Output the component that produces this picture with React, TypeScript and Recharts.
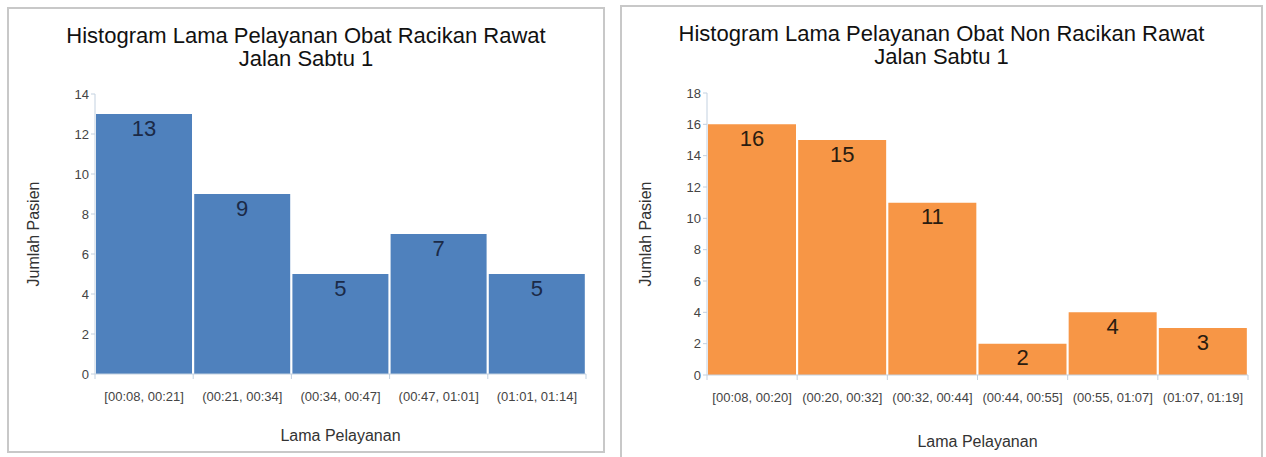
import { BarChart, Bar, XAxis, YAxis, LabelList } from "recharts";

const racikanBins = ["[00:08, 00:21]", "(00:21, 00:34]", "(00:34, 00:47]", "(00:47, 01:01]", "(01:01, 01:14]"];
const racikanCounts = [13, 9, 5, 7, 5];
const racikanTicks = [0, 2, 4, 6, 8, 10, 12, 14];

const nonRacikanBins = ["[00:08, 00:20]", "(00:20, 00:32]", "(00:32, 00:44]", "(00:44, 00:55]", "(00:55, 01:07]", "(01:07, 01:19]"];
const nonRacikanCounts = [16, 15, 11, 2, 4, 3];
const nonRacikanTicks = [0, 2, 4, 6, 8, 10, 12, 14, 16, 18];

const FONT = '"Liberation Sans", Arial, sans-serif';
const AXIS = "#c3d1e0";

const makeTick = (bandWidth: number) => (props: any) => {
  const { x, y, payload, index, visibleTicksCount } = props;
  const axisY = y - 8;
  const left = x - bandWidth / 2;
  const right = x + bandWidth / 2;
  return (
    <g>
      <line x1={left} y1={axisY} x2={left} y2={axisY + 5} stroke={AXIS} />
      {index === visibleTicksCount - 1 && (
        <line x1={right} y1={axisY} x2={right} y2={axisY + 5} stroke={AXIS} />
      )}
      <text x={x} y={axisY + 27} textAnchor="middle" fontSize={13} fill="#444" fontFamily={FONT}>
        {payload.value}
      </text>
    </g>
  );
};

interface PanelProps {
  title: string[];
  bins: string[];
  counts: number[];
  ticks: number[];
  color: string;
  labelColor: string;
  left: number;
  top: number;
  width: number;
  height: number;
  margin: { top: number; right: number; left: number };
  xHeight: number;
  yWidth: number;
  xTitleOffset: number;
}

const Panel = (p: PanelProps) => {
  const innerW = p.width - 4;
  const innerH = p.height - 4;
  const data = p.bins.map((bin, i) => ({ bin, count: p.counts[i] }));
  const bandWidth = (innerW - p.margin.left - p.yWidth - p.margin.right) / p.bins.length;
  return (
    <div
      style={{
        position: "absolute",
        left: p.left,
        top: p.top,
        width: p.width,
        height: p.height,
        boxSizing: "border-box",
        border: "2px solid #c8c8c8",
        background: "#fff",
      }}
    >
      <div
        style={{
          position: "absolute",
          left: 0,
          top: 15,
          width: innerW,
          textAlign: "center",
          fontFamily: FONT,
          fontSize: 22,
          lineHeight: "23px",
          color: "#111",
        }}
      >
        {p.title.map((t) => (
          <div key={t}>{t}</div>
        ))}
      </div>
      <BarChart
        width={innerW}
        height={innerH}
        data={data}
        margin={{ ...p.margin, bottom: 0 }}
        barCategoryGap={1}
      >
        <XAxis
          dataKey="bin"
          stroke={AXIS}
          tickLine={false}
          interval={0}
          height={p.xHeight}
          tick={makeTick(bandWidth)}
          label={{
            value: "Lama Pelayanan",
            position: "insideBottom",
            offset: p.xTitleOffset,
            fontSize: 16,
            fill: "#333",
            fontFamily: FONT,
          }}
        />
        <YAxis
          domain={[0, p.ticks[p.ticks.length - 1]]}
          ticks={p.ticks}
          interval={0}
          width={p.yWidth}
          stroke={AXIS}
          tickSize={4}
          tick={{ fontSize: 13, fill: "#444", fontFamily: FONT }}
          label={{
            value: "Jumlah Pasien",
            angle: -90,
            position: "insideLeft",
            offset: 10,
            fontSize: 16,
            fill: "#333",
            fontFamily: FONT,
            style: { textAnchor: "middle" },
          }}
        />
        <Bar dataKey="count" fill={p.color} isAnimationActive={false}>
          <LabelList
            dataKey="count"
            position="insideTop"
            offset={6}
            fontSize={22}
            fill={p.labelColor}
            fontFamily={FONT}
          />
        </Bar>
      </BarChart>
    </div>
  );
};

export default function App() {
  return (
    <div
      style={{
        position: "absolute",
        left: 0,
        top: 0,
        width: 1266,
        height: 457,
        overflow: "hidden",
        background: "#fff",
      }}
    >
      <Panel
        title={["Histogram Lama Pelayanan Obat Racikan Rawat", "Jalan Sabtu 1"]}
        bins={racikanBins}
        counts={racikanCounts}
        ticks={racikanTicks}
        color="#4f81bd"
        labelColor="#1b2a47"
        left={7}
        top={7}
        width={598}
        height={446}
        margin={{ top: 85, right: 17, left: 14 }}
        xHeight={77}
        yWidth={72}
        xTitleOffset={10}
      />
      <Panel
        title={["Histogram Lama Pelayanan Obat Non Racikan Rawat", "Jalan Sabtu 1"]}
        bins={nonRacikanBins}
        counts={nonRacikanCounts}
        ticks={nonRacikanTicks}
        color="#f79646"
        labelColor="#2a1c10"
        left={620}
        top={5}
        width={643}
        height={460}
        margin={{ top: 86, right: 13, left: 13 }}
        xHeight={88}
        yWidth={72}
        xTitleOffset={16}
      />
    </div>
  );
}
